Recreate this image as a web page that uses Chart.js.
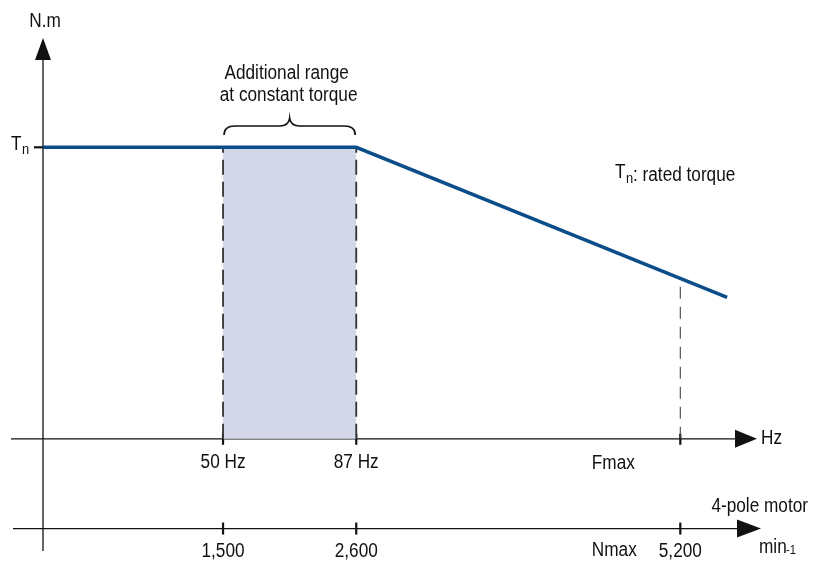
<!DOCTYPE html>
<html>
<head>
<meta charset="utf-8">
<script src="https://cdn.jsdelivr.net/npm/chart.js@4/dist/chart.umd.min.js"></script>
<style>
html,body{margin:0;padding:0;background:#fff;}
#wrap{width:822px;height:566px;position:relative;}
</style>
</head>
<body>
<div id="wrap"><canvas id="c" width="822" height="566"></canvas></div>
<script>
// ---- data ----
const curveHz = [0, 87, 190];          // torque curve x (Hz)
const curveTorque = [1, 1, 0.485];     // torque relative to Tn
const bandHz = [50, 87];               // additional constant-torque range
const markHz = [50, 87, 177];          // marked frequencies (50 Hz, 87 Hz, Fmax)
const markTorque = [1, 1, 0.55];       // torque at marked frequencies
const hzLabels = ['50 Hz', '87 Hz', 'Fmax'];
const rpmLabels = ['1,500', '2,600', '5,200'];
const rpmAxisLevel = -0.308;           // second (speed) axis position
const yLabel = 'N.m';
const tnLabel = 'T';

const FONT = '"Liberation Sans", Arial, sans-serif';
const INK = '#111';
const NARROW = 0.86;

function pts(xs, ys){ return xs.map((x,i)=>({x:x, y:ys[i]})); }

const datasets = [];
// shaded band
datasets.push({
  data: pts(bandHz, bandHz.map(()=>1)),
  fill: 'origin', backgroundColor: '#d3d7e8', borderWidth: 0, pointRadius: 0, order: 5
});
// dashed verticals
markHz.forEach((h,i)=>{
  datasets.push({
    data: [{x:h,y:0},{x:h,y:markTorque[i]}],
    borderColor: i < 2 ? '#333' : '#444',
    borderWidth: i < 2 ? 1.8 : 1.1,
    borderDash: i < 2 ? [15, 7] : [12, 8],
    pointRadius: 0, fill: false, order: 3
  });
});
// torque curve
datasets.push({
  data: pts(curveHz, curveTorque),
  borderColor: '#0b4d89', borderWidth: 3.5, pointRadius: 0, fill: false, order: 1,
  borderCapStyle: 'butt'
});

function text(ctx, s, x, y, size, align){
  ctx.save();
  ctx.font = size + 'px ' + FONT;
  ctx.fillStyle = INK;
  ctx.textAlign = align || 'center';
  ctx.textBaseline = 'middle';
  ctx.translate(x, y);
  ctx.scale(NARROW, 1);
  ctx.fillText(s, 0, 0);
  ctx.restore();
}

const axesPlugin = {
  id: 'axesPlugin',
  beforeDatasetsDraw(chart){
    const ctx = chart.ctx, xs = chart.scales.x, ys = chart.scales.y;
    const x0 = xs.getPixelForValue(0), y0 = ys.getPixelForValue(0);
    const yr = ys.getPixelForValue(rpmAxisLevel);
    const top = chart.chartArea.top, bottom = chart.chartArea.bottom, right = chart.chartArea.right;
    ctx.save();
    ctx.strokeStyle = INK; ctx.fillStyle = INK; ctx.lineWidth = 1.3;
    // y axis
    ctx.beginPath(); ctx.moveTo(x0, bottom); ctx.lineTo(x0, top + 20); ctx.stroke();
    ctx.beginPath(); ctx.moveTo(x0, top); ctx.lineTo(x0 - 8, top + 22); ctx.lineTo(x0 + 8, top + 22); ctx.closePath(); ctx.fill();
    // Hz axis
    ctx.beginPath(); ctx.moveTo(x0 - 32, y0); ctx.lineTo(right - 20, y0); ctx.stroke();
    ctx.beginPath(); ctx.moveTo(right, y0); ctx.lineTo(right - 22, y0 - 9); ctx.lineTo(right - 22, y0 + 9); ctx.closePath(); ctx.fill();
    // speed axis
    const r2 = right + 4;
    ctx.beginPath(); ctx.moveTo(x0 - 30, yr); ctx.lineTo(r2 - 20, yr); ctx.stroke();
    ctx.beginPath(); ctx.moveTo(r2, yr); ctx.lineTo(r2 - 24, yr - 9); ctx.lineTo(r2 - 24, yr + 9); ctx.closePath(); ctx.fill();
    // ticks
    ctx.lineWidth = 2.2;
    markHz.forEach(h=>{
      const px = xs.getPixelForValue(h);
      ctx.beginPath(); ctx.moveTo(px, y0 - 5); ctx.lineTo(px, y0 + 6); ctx.stroke();
      ctx.beginPath(); ctx.moveTo(px, yr - 6); ctx.lineTo(px, yr + 6); ctx.stroke();
    });
    const yt = ys.getPixelForValue(1);
    ctx.beginPath(); ctx.moveTo(x0 - 9, yt); ctx.lineTo(x0, yt); ctx.stroke();
    ctx.restore();
  },
  afterDraw(chart){
    const ctx = chart.ctx, xs = chart.scales.x, ys = chart.scales.y;
    const x0 = xs.getPixelForValue(0), y0 = ys.getPixelForValue(0);
    const yr = ys.getPixelForValue(rpmAxisLevel);
    const yt = ys.getPixelForValue(1);
    const right = chart.chartArea.right;
    ctx.save();
    const FS = 20;
    // y axis title
    text(ctx, yLabel, x0 + 2, 21, FS);
    // Tn
    text(ctx, tnLabel, 11, yt - 3, FS, 'left');
    text(ctx, 'n', 22, yt + 3, 15, 'left');
    // Hz unit
    text(ctx, 'Hz', right + 4, y0, FS, 'left');
    // tick labels
    markHz.forEach((h,i)=>{
      const px = xs.getPixelForValue(h);
      if (i < 2) {
        text(ctx, hzLabels[i], px, y0 + 24, FS);
      } else {
        text(ctx, hzLabels[i], px - 67, y0 + 25, FS);
        text(ctx, 'Nmax', px - 66, yr + 22, FS);
      }
      text(ctx, rpmLabels[i], px, yr + 23, FS);
    });
    // speed axis captions
    text(ctx, '4-pole motor', 808, yr - 22, FS, 'right');
    text(ctx, 'min', 759, yr + 19, FS, 'left');
    text(ctx, '-1', 786, yr + 22, 13, 'left');
    // rated torque note
    text(ctx, 'T', 615, 172, FS, 'left');
    text(ctx, 'n', 626, 179, 15, 'left');
    text(ctx, ': rated torque', 633, 175, FS, 'left');
    // band caption and brace
    const bx1 = xs.getPixelForValue(bandHz[0]), bx2 = xs.getPixelForValue(bandHz[1]);
    const bm = (bx1 + bx2) / 2;
    text(ctx, 'Additional range', bm - 3, 73, FS);
    text(ctx, 'at constant torque', bm - 1, 95, FS);
    ctx.strokeStyle = INK; ctx.lineWidth = 1.6;
    const yb = 135, ym = 126, ytip = 118;
    ctx.beginPath();
    ctx.moveTo(bx1 + 1, yb);
    ctx.quadraticCurveTo(bx1 + 1, ym, bx1 + 12, ym);
    ctx.lineTo(bm - 10, ym);
    ctx.quadraticCurveTo(bm - 1, ym, bm, ytip);
    ctx.quadraticCurveTo(bm + 1, ym, bm + 10, ym);
    ctx.lineTo(bx2 - 12, ym);
    ctx.quadraticCurveTo(bx2 - 1, ym, bx2 - 1, yb);
    ctx.stroke();
    ctx.restore();
  }
};

new Chart(document.getElementById('c'), {
  type: 'line',
  data: { datasets: datasets },
  options: {
    responsive: false,
    animation: false,
    layout: { padding: { left: 43, right: 65, top: 38, bottom: 15 } },
    plugins: { legend: { display: false }, tooltip: { enabled: false } },
    elements: { line: { tension: 0 } },
    scales: {
      x: { type: 'linear', min: 0, max: 198.3, display: false },
      y: { type: 'linear', min: -0.385, max: 1.375, display: false }
    }
  },
  plugins: [axesPlugin]
});
</script>
</body>
</html>
